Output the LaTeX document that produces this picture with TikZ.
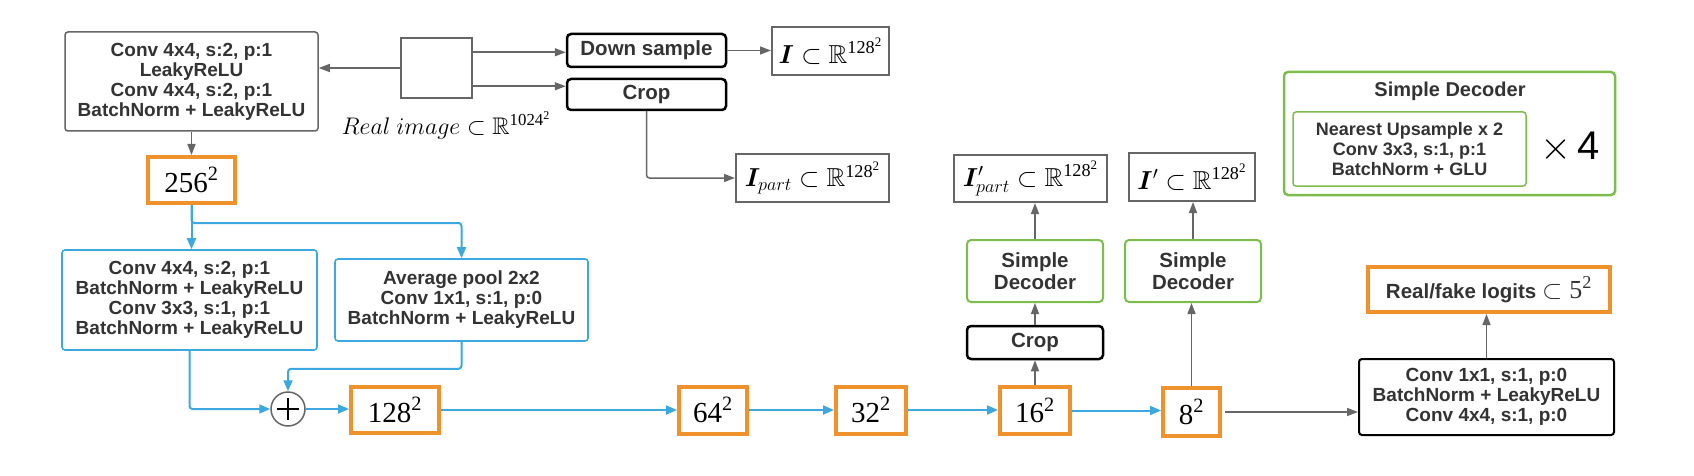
\documentclass[tikz,border=0pt]{standalone}
\usepackage{fix-cm}
\usepackage{amsmath}
\usepackage{amssymb}
\usepackage{bm}
\usepackage{fontspec}
\setmainfont{Liberation Serif}
\setsansfont{Liberation Sans}
\usetikzlibrary{arrows.meta}
\definecolor{lgray}{HTML}{666666}
\definecolor{ltext}{HTML}{333333}
\definecolor{lorange}{HTML}{F0922B}
\definecolor{lblue}{HTML}{3DA8DF}
\definecolor{lgreen}{HTML}{7DBD4E}
% squared size, set in the serif text font
\newcommand{\sqsize}[1]{\text{#1}^{\text{2}}}

\begin{document}
\begin{tikzpicture}[x=1pt,y=-1pt,
  txt/.style={font=\sffamily\bfseries\fontsize{19}{20}\selectfont, text=ltext, align=center, inner sep=0pt},
  graybox/.style={txt, draw=lgray, line width=1.5pt, rounded corners=3pt},
  bluebox/.style={txt, draw=lblue, line width=1.6pt, rounded corners=3pt},
  blackbox/.style={txt, font=\sffamily\bfseries\fontsize{20.5}{22}\selectfont, draw=black, line width=2.5pt, rounded corners=4pt},
  greenbox/.style={txt, font=\sffamily\bfseries\fontsize{20.5}{21.5}\selectfont, draw=lgreen, line width=2pt, rounded corners=4pt},
  imgbox/.style={draw=lgray, line width=2pt, inner sep=0pt, font=\fontsize{26}{26}\selectfont},
  sizebox/.style={draw=lorange, line width=4pt, inner sep=0pt, font=\fontsize{29}{29}\selectfont},
  garrow/.style={draw=lgray, line width=1.5pt, -{Triangle[length=11pt,width=8pt]}},
  barrow/.style={draw=lblue, line width=2pt, -{Triangle[length=11pt,width=9pt]}}]
  \useasboundingbox (0,0) rectangle (1694,476);
  % Draw input image and first stage
  \node (stem) at (191.5,81.5) [graybox, minimum width=253pt, minimum height=99pt]
        {Conv 4x4, s:2, p:1\\LeakyReLU\\Conv 4x4, s:2, p:1\\BatchNorm + LeakyReLU};
  \node (img) at (436.5,68) [imgbox, line width=1.5pt, minimum width=71pt, minimum height=60pt] {};
  \node (imglabel) at (446,125) [font=\fontsize{24}{24}\selectfont]
        {$Real\ image \subset \mathbb{R}^{\sqsize{1024}}$};
  \node (down) at (646.5,50.5) [blackbox, minimum width=159pt, minimum height=33pt] {Down sample};
  \node (crop) at (646.5,94.5) [blackbox, minimum width=159pt, minimum height=31pt] {Crop};
  \node (I) at (830.5,51) [imgbox, minimum width=117pt, minimum height=48pt]
        {$\bm{I} \subset \mathbb{R}^{\sqsize{128}}$};
  \node (Ipart) at (812.5,178) [imgbox, minimum width=153pt, minimum height=48pt]
        {$\bm{I}_{part} \subset \mathbb{R}^{\sqsize{128}}$};
  % Draw residual down block
  \node (f256) at (191.5,180) [sizebox, minimum width=87pt, minimum height=46pt] {$\sqsize{256}$};
  \node (resA) at (189.5,300) [bluebox, minimum width=255pt, minimum height=100pt]
        {Conv 4x4, s:2, p:1\\BatchNorm + LeakyReLU\\Conv 3x3, s:1, p:1\\BatchNorm + LeakyReLU};
  \node (resB) at (461.5,300) [bluebox, minimum width=253pt, minimum height=82pt]
        {Average pool 2x2\\Conv 1x1, s:1, p:0\\BatchNorm + LeakyReLU};
  \node (plus) at (288,409) [circle, draw=lgray, line width=1.5pt, minimum size=34pt, inner sep=0pt] {};
  \draw[line width=2.2pt] ([xshift=-11pt]plus.center) -- ([xshift=11pt]plus.center);
  \draw[line width=2.2pt] ([yshift=-11pt]plus.center) -- ([yshift=11pt]plus.center);
  % Draw feature maps
  \node (f128) at (395,410) [sizebox, minimum width=88pt, minimum height=46pt] {$\sqsize{128}$};
  \node (f64)  at (713,410) [sizebox, minimum width=68pt, minimum height=47pt] {$\sqsize{64}$};
  \node (f32)  at (871,410) [sizebox, minimum width=70pt, minimum height=47pt] {$\sqsize{32}$};
  \node (f16)  at (1035,410.5) [sizebox, minimum width=70pt, minimum height=47pt] {$\sqsize{16}$};
  \node (f8)   at (1191.5,412) [sizebox, minimum width=57pt, minimum height=48pt] {$\sqsize{8}$};
  % Draw decoders
  \node (crop2) at (1035,342.5) [blackbox, minimum width=136pt, minimum height=33pt] {Crop};
  \node (dec1) at (1035,271) [greenbox, minimum width=136pt, minimum height=62pt] {Simple\\Decoder};
  \node (dec2) at (1193,271) [greenbox, minimum width=136pt, minimum height=62pt] {Simple\\Decoder};
  \node (Ippart) at (1030.5,178.5) [imgbox, minimum width=153pt, minimum height=47pt]
        {$\bm{I}'_{part} \subset \mathbb{R}^{\sqsize{128}}$};
  \node (Ip) at (1192,177) [imgbox, minimum width=126pt, minimum height=48pt]
        {$\bm{I}' \subset \mathbb{R}^{\sqsize{128}}$};
  % Draw logits head
  \node (head) at (1486.5,397) [graybox, draw=black, line width=2pt, minimum width=255pt, minimum height=76pt]
        {Conv 1x1, s:1, p:0\\BatchNorm + LeakyReLU\\Conv 4x4, s:1, p:0};
  \node (logits) at (1489,289.5) [sizebox, txt, font=\sffamily\bfseries\fontsize{20.5}{22}\selectfont,
        minimum width=242pt, minimum height=45pt]
        {Real/fake logits {\rmfamily\mdseries\fontsize{26}{26}\selectfont$\subset \sqsize{5}$}};
  % Draw decoder legend
  \node (legend) at (1449.5,133.5) [draw=lgreen, line width=2.5pt, rounded corners=4pt,
        minimum width=331pt, minimum height=123pt] {};
  \node (legendtitle) at (1450,91) [txt, font=\sffamily\bfseries\fontsize{20}{20}\selectfont] {Simple Decoder};
  \node (legendbody) at (1409.5,149) [txt, font=\sffamily\bfseries\fontsize{18}{20}\selectfont,
        draw=lgreen, line width=1.5pt, rounded corners=3pt, minimum width=233pt, minimum height=74pt]
        {Nearest Upsample x 2\\Conv 3x3, s:1, p:1\\BatchNorm + GLU};
  \node (repeat) at (1570,147) [font=\fontsize{40}{40}\selectfont] {$\times$\,\textsf{4}};
  % Draw gray connectors
  \coordinate (imgA) at ([yshift=-15pt]img.north east);
  \coordinate (imgB) at ([yshift=-49pt]img.north east);
  \draw[garrow] (img.west) -- (img.west -| stem.east);
  \draw[garrow] (imgA) -- (imgA -| down.west);
  \draw[garrow] (imgB) -- (imgB -| crop.west);
  \draw[garrow] (down.east) -- (down.east -| I.west);
  \draw[garrow, rounded corners=3pt] (crop.south) |- (Ipart.west);
  \draw[garrow] (stem.south) -- (f256.north);
  \draw[garrow] (f16.north) -- (crop2.south);
  \draw[garrow] (crop2.north) -- (dec1.south);
  \draw[garrow] (dec1.north) -- (dec1.north |- Ippart.south);
  \draw[garrow] (f8.north) -- (f8.north |- dec2.south);
  \draw[garrow] (dec2.north) -- (dec2.north |- Ip.south);
  \draw[garrow] ([xshift=3pt]f8.east) -- (f8.east -| head.west);
  \draw[garrow] (head.north) -- (head.north |- logits.south);
  % Draw blue connectors
  \draw[barrow] (f256.south) -- (f256.south |- resA.north);
  \draw[barrow, rounded corners=3pt] (f256.south) -- ++(0,18) -| (resB.north);
  \draw[barrow, rounded corners=3pt] (resA.south) |- (plus.west);
  \draw[barrow, rounded corners=3pt] (resB.south) -- ++(0,27) -| (plus.north);
  \draw[barrow] (plus.east) -- (plus.east -| f128.west);
  \foreach \a/\b in {f128/f64, f64/f32, f32/f16, f16/f8}
    \draw[barrow] (\a.east) -- (\a.east -| \b.west);
\end{tikzpicture}
\end{document}
